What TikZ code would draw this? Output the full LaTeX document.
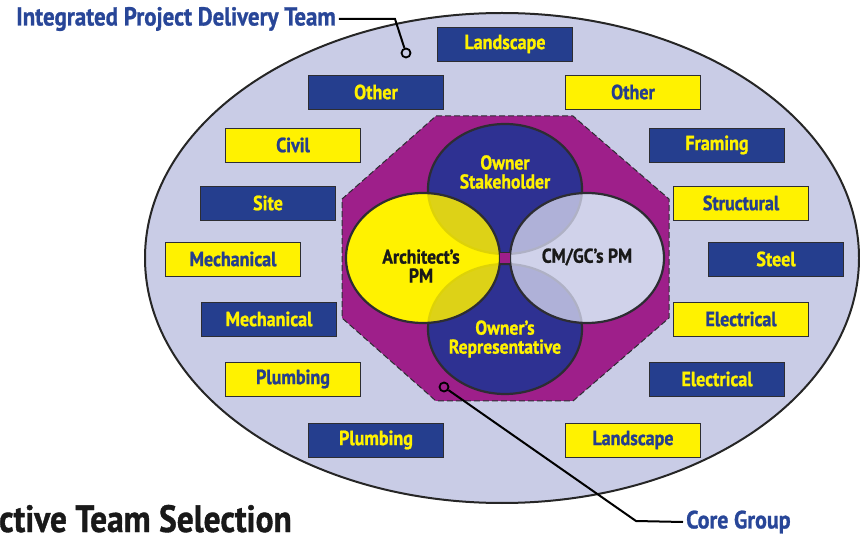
\documentclass[tikz,border=0pt]{standalone}
\usepackage{fontspec}
\newfontfamily\cond[FakeStretch=0.88,FakeBold=1]{PT Sans}
\usetikzlibrary{shapes.geometric}
\definecolor{bg}{RGB}{201,204,230}
\definecolor{boxblue}{RGB}{37,62,142}
\definecolor{ellblue}{RGB}{46,49,146}
\definecolor{ylw}{RGB}{255,242,0}
\definecolor{purp}{RGB}{158,31,138}
\definecolor{lav}{RGB}{208,210,234}
\definecolor{ttl}{RGB}{40,70,152}
\definecolor{edge}{RGB}{45,45,50}
\tikzset{
  boxbase/.style={draw=edge, line width=0.9pt, minimum width=135pt, minimum height=34pt, inner sep=0pt,
    font=\cond\bfseries\fontsize{20.5}{20}\selectfont},
  ybox/.style={boxbase, fill=ylw, text=boxblue},
  bbox/.style={boxbase, fill=boxblue, text=ylw},
  circ/.style={ellipse, draw=edge, line width=2.2pt, minimum width=154pt, minimum height=130pt, inner sep=0pt},
  ctext/.style={align=center, inner sep=0pt, font=\cond\bfseries\fontsize{20}{19}\selectfont},
  ring/.style={circle, draw=black, line width=1.8pt, minimum size=9pt, inner sep=0pt},
  leader/.style={draw=black, line width=2pt},
  lbl/.style={font=\cond\bfseries\fontsize{26}{26}\selectfont, text=ttl, inner sep=0pt}
}
\begin{document}
\begin{tikzpicture}[x=1pt,y=-1pt]
\useasboundingbox (0,0) rectangle (860,537);
% team ellipse
\node[ellipse, draw=black!85, line width=2pt, fill=bg, minimum width=714pt, minimum height=490pt, inner sep=0pt] (team) at (502,258) {};
% core octagon
\draw[fill=purp, draw=edge, line width=1pt, dash pattern=on 6pt off 3pt]
  (436,116) -- (573,116) -- (669,199) -- (669,318) -- (573,401) -- (436,401) -- (342,318) -- (342,199) -- cycle;
% boxes
\node[bbox] (b1) at (505,44) {Landscape};
\node[bbox] (b2) at (376,92) {Other};
\node[ybox] (b3) at (633,92) {Other};
\node[ybox] (b4) at (293,145) {Civil};
\node[bbox] (b5) at (717,145) {Framing};
\node[bbox] (b6) at (268,203) {Site};
\node[ybox] (b7) at (741,203) {Structural};
\node[ybox] (b8) at (233,259) {Mechanical};
\node[bbox] (b9) at (776,259) {Steel};
\node[bbox] (b10) at (269,319) {Mechanical};
\node[ybox] (b11) at (741,319) {Electrical};
\node[ybox] (b12) at (293,379) {Plumbing};
\node[bbox] (b13) at (717,379) {Electrical};
\node[bbox] (b14) at (376,440) {Plumbing};
\node[ybox] (b15) at (633,440) {Landscape};
% opaque underlay of side circles (over the octagon)
\fill[ylw] (423,258) ellipse (77 and 65);
\fill[lav] (587,258) ellipse (77 and 65);
% core circles
\node[circ, fill=ellblue] (own) at (505,189) {};
\node[circ, fill=ellblue] (rep) at (505,329) {};
\node[circ, fill=ylw, fill opacity=0.84] (arch) at (423,258) {};
\node[circ, fill=lav, fill opacity=0.80] (cm) at (587,258) {};
\node[draw=edge, line width=1.5pt, fill=purp, minimum size=11pt, inner sep=0pt] (mid) at (505,258) {};
\node[ctext, text=ylw] (ownt) at (505,172) {Owner\\Stakeholder};
\node[ctext, text=ylw] (rept) at (505,339) {Owner’s\\Representative};
\node[ctext, text=black!90] (archt) at (421,266) {Architect’s\\PM};
\node[ctext, text=black!90] (cmt) at (587,257) {CM/GC’s PM};
% labels and leaders
\node[lbl, anchor=west] (ipd) at (16,19) {Integrated Project Delivery Team};
\node[ring] (ipdring) at (406,53) {};
\coordinate (ipdbend) at (395,19);
\draw[leader] (ipd.east) ++(3pt,0) -- (ipdbend) -- (ipdring);
\node[lbl, anchor=west, font=\cond\bfseries\fontsize{25}{25}\selectfont] (core) at (686,522) {Core Group};
\node[ring] (corering) at (444,387) {};
\coordinate (corebend) at (636,521);
\draw[leader] (corering) -- (corebend) -- ([xshift=-3pt]core.west);
\node[anchor=base east, inner sep=0pt, font=\cond\bfseries\fontsize{38}{38}\selectfont, text=black!90] (sel) at (292,532) {ctive Team Selection};
\end{tikzpicture}
\end{document}
